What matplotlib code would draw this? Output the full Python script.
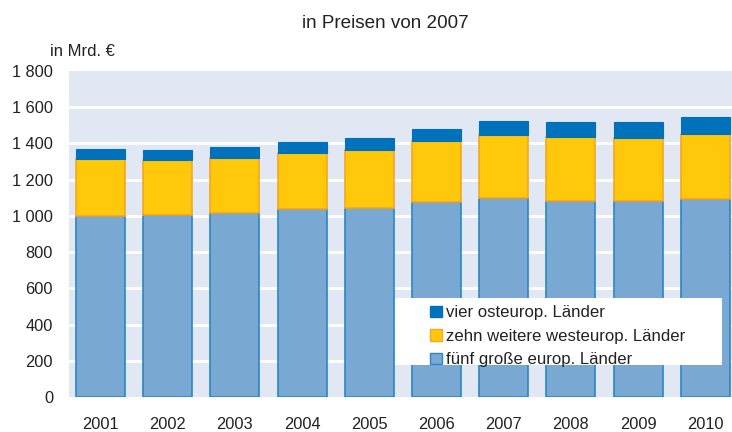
import matplotlib
matplotlib.use("Agg")
import matplotlib.pyplot as plt
from matplotlib.patches import Rectangle, Patch

plt.rcParams['font.family'] = ['Liberation Sans', 'DejaVu Sans']

years = ["2001", "2002", "2003", "2004", "2005", "2006", "2007", "2008", "2009", "2010"]
fuenf = [1001, 1007, 1018, 1036, 1042, 1078, 1097, 1084, 1084, 1095]
zehn = [311, 301, 301, 309, 320, 333, 349, 349, 346, 357]
vier = [57, 57, 59, 63, 68, 68, 76, 83, 90, 93]
yticks = [0, 200, 400, 600, 800, 1000, 1200, 1400, 1600, 1800]
ytick_labels = ["0", "200", "400", "600", "800", "1 000", "1 200", "1 400", "1 600", "1 800"]
labels = ["vier osteurop. Länder", "zehn weitere westeurop. Länder", "fünf große europ. Länder"]

W, H = 732, 432
fig = plt.figure(figsize=(W / 100, H / 100), dpi=100)
ax = fig.add_axes([69 / W, 1 - 397.2 / H, (732 - 69) / W, (397.2 - 70.9) / H])

c_light, e_light = "#79A9D3", "#2B86C8"
c_yel, e_yel = "#FFC80A", "#F5A623"
c_dark, e_dark = "#0072BC", "#1A7CC0"

x = list(range(len(years)))
bw = 0.73
ax.bar(x, fuenf, bw, color=c_light, edgecolor=e_light, linewidth=1.2, zorder=3)
bot2 = fuenf
ax.bar(x, zehn, bw, bottom=bot2, color=c_yel, edgecolor=e_yel, linewidth=1.2, zorder=3)
bot3 = [a + b for a, b in zip(fuenf, zehn)]
ax.bar(x, vier, bw, bottom=bot3, color=c_dark, edgecolor=c_dark, linewidth=0.8, zorder=3)

ax.set_facecolor("#E1E8F4")
ax.set_xlim(-0.469, 9.397)
ax.set_ylim(0, 1800)
ax.set_yticks(yticks)
ax.set_yticklabels(ytick_labels)
ax.set_xticks(x)
ax.set_xticklabels(years)
ax.tick_params(length=0, labelsize=11.8, colors="#222222")
ax.tick_params(axis='y', pad=11.5)
ax.tick_params(axis='x', pad=14)
for v in yticks[1:-1]:
    ax.axhline(v, color="white", linewidth=2.0, zorder=1)
for s in ax.spines.values():
    s.set_visible(False)

fig.text(385.5 / W, 1 - 23 / H, "in Preisen von 2007", ha="center", va="center", fontsize=13.6, color="#222222")
fig.text(50 / W, 1 - 52 / H, "in Mrd. €", ha="left", va="center", fontsize=12, color="#222222")

rect = Rectangle((395 / W, 1 - 365 / H), (722 - 395) / W, (365 - 298) / H,
                 transform=fig.transFigure, facecolor="white", edgecolor="none", zorder=5)
fig.patches.append(rect)

handles = [Patch(facecolor=c_dark, edgecolor=c_dark),
           Patch(facecolor=c_yel, edgecolor=e_yel),
           Patch(facecolor=c_light, edgecolor=e_light)]
leg = fig.legend(handles, labels, loc="upper left", bbox_to_anchor=(427 / W, 1 - 302 / H),
                 frameon=False, fontsize=12.1, handlelength=0.68, handleheight=0.68,
                 handletextpad=0.25, labelspacing=0.5, borderpad=0.2, borderaxespad=0)
for t in leg.get_texts():
    t.set_color("#222222")
leg.set_zorder(6)

fig.savefig("out.png", dpi=100)
